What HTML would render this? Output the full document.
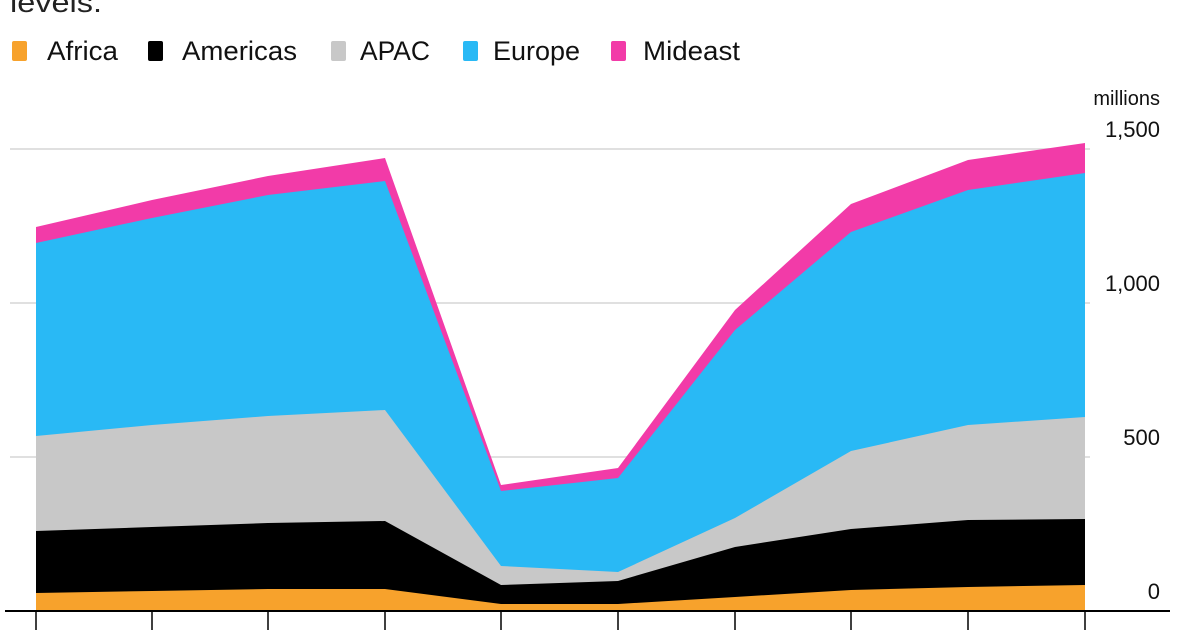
<!DOCTYPE html>
<html><head><style>
body{margin:0;width:1200px;height:630px;background:#fff;overflow:hidden;font-family:"Liberation Sans",sans-serif}
</style></head><body>
<svg width="1200" height="630" xmlns="http://www.w3.org/2000/svg" font-family="Liberation Sans, sans-serif">
<text x="10" y="12" font-size="28" fill="#222" textLength="92" lengthAdjust="spacingAndGlyphs">levels.</text>
<g font-size="27" fill="#111">
<rect x="12" y="41" width="15" height="20" rx="2" fill="#f7a22c"/><text x="47" y="60" textLength="71" lengthAdjust="spacingAndGlyphs">Africa</text>
<rect x="148" y="41" width="15" height="20" rx="2" fill="#000"/><text x="182" y="60" textLength="115" lengthAdjust="spacingAndGlyphs">Americas</text>
<rect x="331" y="41" width="15" height="20" rx="2" fill="#c8c8c8"/><text x="360" y="60" textLength="70" lengthAdjust="spacingAndGlyphs">APAC</text>
<rect x="463" y="41" width="15" height="20" rx="2" fill="#29b9f5"/><text x="493" y="60" textLength="87" lengthAdjust="spacingAndGlyphs">Europe</text>
<rect x="611" y="41" width="15" height="20" rx="2" fill="#f23ba8"/><text x="643" y="60" textLength="97" lengthAdjust="spacingAndGlyphs">Mideast</text>
</g>
<g stroke="#e0e0e0" stroke-width="2"><line x1="10" y1="149" x2="1090" y2="149"/><line x1="10" y1="303" x2="1090" y2="303"/><line x1="10" y1="457" x2="1090" y2="457"/></g>
<polygon fill="#f23ba8" points="36,227 152,200 268,176 385,158 501,485 618,468 735,310 851,204 968,160 1085,143 1085,611 36,611"/>
<polygon fill="#29b9f5" points="36,243 152,218 268,195 385,181 501,491 618,478 735,330 851,232 968,190 1085,173 1085,611 36,611"/>
<polygon fill="#c8c8c8" points="36,436 152,425 268,416 385,410 501,566 618,572 735,518 851,451 968,425 1085,417 1085,611 36,611"/>
<polygon fill="#000" points="36,531 152,527 268,523 385,521 501,585 618,581 735,547 851,529 968,520 1085,519 1085,611 36,611"/>
<polygon fill="#f7a22c" points="36,593 152,591 268,589 385,589 501,604 618,604 735,597 851,590 968,587 1085,585 1085,611 36,611"/>
<line x1="5" y1="611" x2="1170" y2="611" stroke="#000" stroke-width="2"/>
<g stroke="#000" stroke-width="1.5"><line x1="36" y1="611" x2="36" y2="630"/><line x1="152" y1="611" x2="152" y2="630"/><line x1="268" y1="611" x2="268" y2="630"/><line x1="385" y1="611" x2="385" y2="630"/><line x1="501" y1="611" x2="501" y2="630"/><line x1="618" y1="611" x2="618" y2="630"/><line x1="735" y1="611" x2="735" y2="630"/><line x1="851" y1="611" x2="851" y2="630"/><line x1="968" y1="611" x2="968" y2="630"/><line x1="1085" y1="611" x2="1085" y2="630"/></g>
<g font-size="22" fill="#111" text-anchor="end">
<text x="1160" y="105" font-size="20">millions</text>
<text x="1160" y="137">1,500</text>
<text x="1160" y="291">1,000</text>
<text x="1160" y="445">500</text>
<text x="1160" y="599">0</text>
</g>
</svg>
</body></html>
